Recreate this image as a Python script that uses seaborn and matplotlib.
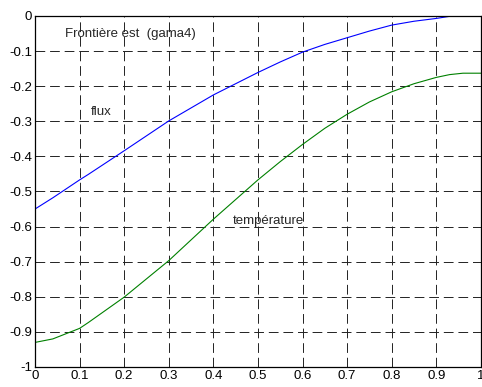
import pandas as pd
import seaborn as sns
import matplotlib.pyplot as plt

# valeurs
x = [0, 0.04, 0.1, 0.12, 0.2, 0.3, 0.4, 0.5, 0.55, 0.6, 0.65, 0.7, 0.75, 0.8, 0.85, 0.9, 0.93, 0.96, 1.0]
flux = [-0.55, -0.518, -0.467, -0.451, -0.384, -0.299, -0.225, -0.161, -0.131, -0.103, -0.081, -0.062,
        -0.043, -0.026, -0.015, -0.007, -0.001, 0.0, 0.0]
temperature = [-0.93, -0.92, -0.89, -0.873, -0.801, -0.697, -0.579, -0.467, -0.415, -0.366, -0.320, -0.280,
               -0.245, -0.216, -0.193, -0.175, -0.167, -0.163, -0.163]

data = pd.DataFrame({'x': x, 'flux': flux, 'temperature': temperature})

sns.set_style('white')
plt.rcParams['font.family'] = ['Liberation Sans', 'DejaVu Sans']

fig = plt.figure(figsize=(4.82, 3.87), dpi=100)
ax = fig.add_axes([0.0726, 0.0517, 0.925, 0.907])

sns.lineplot(x='x', y='flux', data=data, color='#0000ff', linewidth=0.8, ax=ax)
sns.lineplot(x='x', y='temperature', data=data, color='#008000', linewidth=0.8, ax=ax)

ax.set_xlim(0, 1)
ax.set_ylim(-1, 0)
ax.set_xticks([i / 10 for i in range(11)])
ax.set_yticks([-i / 10 for i in range(11)])
ax.set_xticklabels(['0', '0.1', '0.2', '0.3', '0.4', '0.5', '0.6', '0.7', '0.8', '0.9', '1'])
ax.set_yticklabels(['0', '-0.1', '-0.2', '-0.3', '-0.4', '-0.5', '-0.6', '-0.7', '-0.8', '-0.9', '-1'])
ax.tick_params(direction='in', length=3, width=0.8, labelsize=9.5, colors='black', pad=2)
ax.grid(True, color='#222222', linewidth=0.7, linestyle=(0, (10, 5)))
ax.set_xlabel('')
ax.set_ylabel('')
for s in ax.spines.values():
    s.set_color('black')
    s.set_linewidth(0.9)

ax.text(0.067, -0.05, 'Frontière est  (gama4)', fontsize=9.5, va='center')
ax.text(0.126, -0.273, 'flux', fontsize=9.5, va='center')
ax.text(0.444, -0.584, 'température', fontsize=9.5, va='center')

fig.savefig('out.png', dpi=100)
